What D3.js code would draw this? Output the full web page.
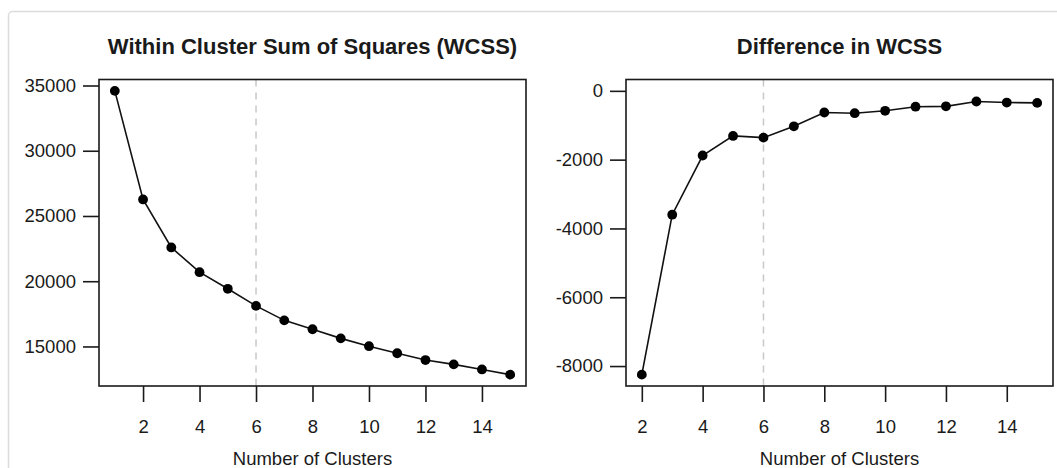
<!DOCTYPE html>
<html>
<head>
<meta charset="utf-8">
<script src="https://cdn.jsdelivr.net/npm/d3@7"></script>
<style>
  html, body { margin: 0; padding: 0; background: #fff; overflow: hidden; }
  svg text { font-family: "Liberation Sans", Arial, Helvetica, sans-serif; fill: #1a1a1a; }
</style>
</head>
<body>
<div id="chart"></div>
<script>
// values
const clusters = [1, 2, 3, 4, 5, 6, 7, 8, 9, 10, 11, 12, 13, 14, 15];
const wcss = [34590, 26270, 22590, 20690, 19420, 18110, 17000, 16320, 15620, 15020, 14480, 13960, 13630, 13240, 12840];

const diffClusters = [2, 3, 4, 5, 6, 7, 8, 9, 10, 11, 12, 13, 14, 15];
const wcssDiff = [-8250, -3600, -1880, -1310, -1360, -1030, -630, -650, -580, -460, -450, -310, -340, -350];

const xTicks = [2, 4, 6, 8, 10, 12, 14];
const wcssTicks = [15000, 20000, 25000, 30000, 35000];
const diffTicks = [-8000, -6000, -4000, -2000, 0];
const chosenK = 6;

const width = 1057;
const height = 468;

const svg = d3.select("#chart")
  .append("svg")
  .attr("width", width)
  .attr("height", height);

// light card border round the whole figure
svg.append("rect")
  .attr("x", 8.5).attr("y", 11.5)
  .attr("width", width + 20).attr("height", height + 20)
  .attr("rx", 4)
  .attr("fill", "none")
  .attr("stroke", "#dcdcdc")
  .attr("stroke-width", 1.5);

// R style padding: 4% of the data range on each side
function padded(lo, hi) {
  const p = (hi - lo) * 0.04;
  return [lo - p, hi + p];
}

function drawPanel(opts) {
  const { xs, ys, left, right, title, yTicks, yExtent } = opts;
  const top = 79.5, bottom = 386;

  const x = d3.scaleLinear()
    .domain(padded(d3.min(xs), d3.max(xs)))
    .range([left, right]);

  const y = d3.scaleLinear()
    .domain(padded(yExtent[0], yExtent[1]))
    .range([bottom, top]);

  const g = svg.append("g");

  // axes
  const yAxis = g.append("g")
    .attr("transform", `translate(${left},0)`)
    .call(d3.axisLeft(y).tickValues(yTicks).tickSize(16).tickPadding(7));
  const xAxis = g.append("g")
    .attr("transform", `translate(0,${bottom})`)
    .call(d3.axisBottom(x).tickValues(xTicks).tickSize(16).tickPadding(18));

  [yAxis, xAxis].forEach(a => {
    a.select(".domain").remove();
    a.selectAll("line").attr("stroke", "#1a1a1a").attr("stroke-width", 1.6);
    a.selectAll("text").style("font-size", "18.5px").attr("fill", "#1a1a1a");
  });
  yAxis.selectAll("text").text(d => String(d));

  // dashed marker at chosen k
  g.append("line")
    .attr("x1", x(chosenK)).attr("x2", x(chosenK))
    .attr("y1", top).attr("y2", bottom)
    .attr("stroke", "#c8c8c8")
    .attr("stroke-width", 1.5)
    .attr("stroke-dasharray", "7,6");

  const pts = xs.map((v, i) => [v, ys[i]]);

  g.append("path")
    .datum(pts)
    .attr("fill", "none")
    .attr("stroke", "#111")
    .attr("stroke-width", 1.6)
    .attr("d", d3.line().x(d => x(d[0])).y(d => y(d[1])));

  g.selectAll(".pt")
    .data(pts)
    .enter()
    .append("circle")
    .attr("class", "pt")
    .attr("cx", d => x(d[0]))
    .attr("cy", d => y(d[1]))
    .attr("r", 4.9)
    .attr("fill", "#000");

  // plot box
  g.append("rect")
    .attr("x", left).attr("y", top)
    .attr("width", right - left).attr("height", bottom - top)
    .attr("fill", "none")
    .attr("stroke", "#1a1a1a")
    .attr("stroke-width", 1.6);

  g.append("text")
    .attr("x", (left + right) / 2)
    .attr("y", 54)
    .attr("text-anchor", "middle")
    .style("font-size", "22px")
    .style("font-weight", "bold")
    .text(title);

  g.append("text")
    .attr("x", (left + right) / 2)
    .attr("y", 465)
    .attr("text-anchor", "middle")
    .style("font-size", "18.5px")
    .text("Number of Clusters");
}

drawPanel({
  xs: clusters, ys: wcss,
  left: 99, right: 526,
  title: "Within Cluster Sum of Squares (WCSS)",
  yTicks: wcssTicks,
  yExtent: d3.extent(wcss)
});

drawPanel({
  xs: diffClusters, ys: wcssDiff,
  left: 626, right: 1053,
  title: "Difference in WCSS",
  yTicks: diffTicks,
  yExtent: [d3.min(wcssDiff), 0]
});
</script>
</body>
</html>
